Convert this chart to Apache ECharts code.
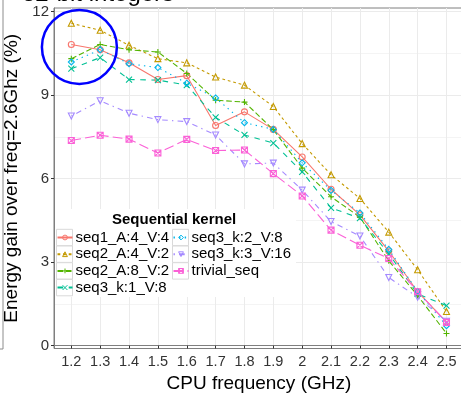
<!DOCTYPE html>
<html>
<head>
<meta charset="utf-8">
<script src="https://cdn.jsdelivr.net/npm/echarts@6/dist/echarts.min.js"></script>
<style>html,body{margin:0;padding:0;background:#fff;}#c{width:461px;height:400px;}</style>
</head>
<body>
<div id="c"></div>
<script>
// ---- data ----
const freq = [1.2, 1.3, 1.4, 1.5, 1.6, 1.7, 1.8, 1.9, 2.0, 2.1, 2.2, 2.3, 2.4, 2.5];
const yTicks = [0, 3, 6, 9, 12];
const yMinorTicks = [1.5, 4.5, 7.5, 10.5];
const seriesNames = ['seq1_A:4_V:4', 'seq2_A:4_V:2', 'seq2_A:8_V:2', 'seq3_k:1_V:8', 'seq3_k:2_V:8', 'seq3_k:3_V:16', 'trivial_seq'];
const seq1_A4_V4  = [10.82, 10.63, 10.16, 9.56, 9.70, 7.91, 8.40, 7.77, 6.78, 5.62, 4.70, 3.40, 1.94, 0.85];
const seq2_A4_V2  = [11.58, 11.33, 10.79, 10.31, 10.16, 9.65, 9.36, 8.59, 7.26, 6.14, 5.29, 4.08, 2.73, 1.23];
const seq2_A8_V2  = [10.31, 10.82, 10.63, 10.55, 9.78, 8.82, 8.75, 7.76, 6.38, 5.35, 4.62, 3.05, 1.80, 0.44];
const seq3_k1_V8  = [9.95, 10.35, 9.56, 9.54, 9.36, 8.20, 7.57, 7.28, 6.24, 4.95, 4.58, 3.30, 1.86, 1.44];
const seq3_k2_V8  = [10.19, 10.63, 10.13, 9.99, 9.43, 8.90, 8.01, 7.77, 6.57, 5.58, 4.77, 3.46, 1.95, 0.72];
const seq3_k3_V16 = [8.25, 8.80, 8.35, 8.12, 8.05, 7.57, 6.53, 6.56, 5.59, 4.46, 3.94, 2.45, 1.74, 0.88];
const trivial_seq = [7.37, 7.56, 7.42, 6.92, 7.41, 7.01, 7.03, 6.18, 5.38, 4.15, 3.61, 3.13, 1.94, 0.84];
const seriesValues = [seq1_A4_V4, seq2_A4_V2, seq2_A8_V2, seq3_k1_V8, seq3_k2_V8, seq3_k3_V16, trivial_seq];

// ---- styles ----
const colors = ['#F8766D', '#C49A00', '#53B400', '#00C094', '#00B6EB', '#A58AFF', '#FB61D7'];
const dashes = ['solid', [2.8, 2.8], [5.6, 2.8], [5.6, 5.6], [1.4, 4.2], [1.4, 4.2, 5.6, 4.2], [9.8, 4.2]];
const symbols = [
  'circle',
  'triangle',
  'path://M5,0V10M0,5H10',
  'path://M0,0L10,10M10,0L0,10',
  'diamond',
  'path://M0,0H10L5,8.66Z',
  'path://M0,0H10V10H0ZM0,0L10,10M10,0L0,10'
];
const FONT = '"Liberation Sans", Arial, sans-serif';

const series = seriesNames.map((name, i) => ({
  name: name,
  type: 'line',
  data: freq.map((f, j) => [f, seriesValues[i][j]]),
  symbol: symbols[i],
  symbolSize: 6,
  showSymbol: true,
  lineStyle: { color: colors[i], width: 1.1, type: dashes[i] },
  itemStyle: { color: 'rgba(0,0,0,0)', borderColor: colors[i], borderWidth: 1.1 },
  emphasis: { disabled: true },
  z: 2
}));

const chart = echarts.init(document.getElementById('c'), null, { renderer: 'canvas' });

const legendCommon = {
  orient: 'vertical',
  top: 230,
  padding: 0,
  itemWidth: 15,
  itemHeight: 6,
  itemGap: 1.7,
  selectedMode: false,
  itemStyle: { color: 'rgba(0,0,0,0)', borderWidth: 1 },
  textStyle: { fontFamily: FONT, fontSize: 15, color: '#000', padding: [0, 0, 0, -2] },
  z: 6
};

// legend key boxes + background
const keyBoxes = [];
const rowH = 16.7;
for (let r = 0; r < 4; r++) keyBoxes.push({ x: 56.5, y: 229.3 + r * rowH });
for (let r = 0; r < 3; r++) keyBoxes.push({ x: 172.5, y: 229.3 + r * rowH });

const graphics = [
  { type: 'rect', shape: { x: 55, y: 209, width: 241, height: 88 }, style: { fill: '#fff' }, z: 1, silent: true }
].concat(keyBoxes.map(b => ({
  type: 'rect', shape: { x: b.x, y: b.y, width: 16, height: 16.4 },
  style: { fill: '#fff', stroke: '#d9d9d9', lineWidth: 1 }, z: 3, silent: true
}))).concat([
  { type: 'polyline', shape: { points: [[0, 349], [3, 349], [3, 0]] }, style: { stroke: '#8c8c8c', lineWidth: 1, fill: null }, z: 5, silent: true }
]);

chart.setOption({
  animation: false,
  backgroundColor: '#fff',
  title: [
    { text: '32-bit integers', left: 22, top: -18, padding: 0, textStyle: { fontFamily: FONT, fontSize: 24, fontWeight: 'normal', color: '#000' } },
    { text: 'Sequential kernel', left: 112, top: 212, padding: 0, textStyle: { fontFamily: FONT, fontSize: 15, fontWeight: 'bold', color: '#000' }, z: 6 }
  ],
  grid: { left: 54, right: -2.8, top: 8, bottom: 51.5, show: true, borderColor: '#7f7f7f', borderWidth: 1, backgroundColor: '#fff', containLabel: false, outerBoundsMode: 'none' },
  xAxis: {
    type: 'value', min: 1.14, max: 2.56,
    name: 'CPU frequency (GHz)', nameLocation: 'middle', nameGap: 25,
    nameTextStyle: { fontFamily: FONT, fontSize: 19, color: '#000' },
    axisLine: { show: true, lineStyle: { color: '#7f7f7f', width: 1 } },
    axisTick: { show: true, length: 3, customValues: freq, lineStyle: { color: '#333' } },
    axisLabel: { customValues: freq, margin: 6, fontFamily: FONT, fontSize: 14.5, color: '#333',
      formatter: v => String(+(+v).toFixed(1)) },
    splitLine: { show: true, lineStyle: { color: '#ebebeb', width: 1 } }
  },
  yAxis: [
    {
      type: 'value', min: -0.1, max: 12.13,
      name: 'Energy gain over freq=2.6Ghz (%)', nameLocation: 'middle', nameGap: 27, nameRotate: 90,
      nameTextStyle: { fontFamily: FONT, fontSize: 19, color: '#000' },
      axisLine: { show: true, lineStyle: { color: '#7f7f7f', width: 1 } },
      axisTick: { show: true, length: 3, customValues: yTicks, lineStyle: { color: '#333' } },
      axisLabel: { customValues: yTicks, margin: 5, fontFamily: FONT, fontSize: 15, color: '#333' },
      splitLine: { show: true, lineStyle: { color: '#ebebeb', width: 1 } }
    },
    {
      type: 'value', min: -0.1, max: 12.13, position: 'left',
      axisLine: { show: false },
      axisTick: { show: false, customValues: yMinorTicks },
      axisLabel: { show: false, customValues: yMinorTicks },
      splitLine: { show: true, lineStyle: { color: '#f4f4f4', width: 1 } }
    }
  ],
  legend: [
    Object.assign({}, legendCommon, { left: 56.5, data: seriesNames.slice(0, 4) }),
    Object.assign({}, legendCommon, { left: 172.5, data: seriesNames.slice(4) })
  ],
  graphic: graphics,
  series: series
});

// annotation circle centred on a data location
const c = chart.convertToPixel({ gridIndex: 0 }, [1.228, 10.73]);
chart.setOption({
  graphic: graphics.concat([{
    type: 'ellipse', shape: { cx: c[0], cy: c[1], rx: 37.5, ry: 37 },
    style: { fill: null, stroke: '#0000ff', lineWidth: 2.5 }, z: 10, silent: true
  }])
});
</script>
</body>
</html>
